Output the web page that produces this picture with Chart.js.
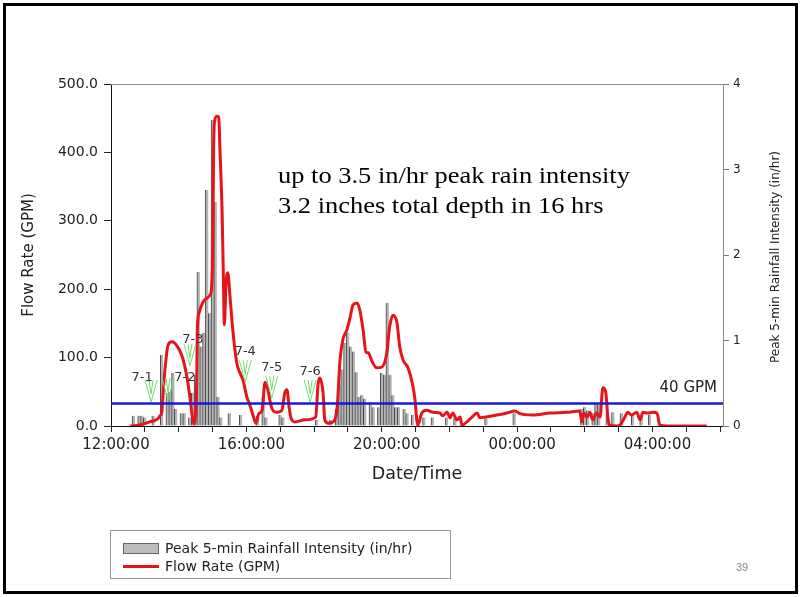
<!DOCTYPE html>
<html>
<head>
<meta charset="utf-8">
<script src="https://cdn.jsdelivr.net/npm/chart.js@4.4.1/dist/chart.umd.min.js"></script>
<style>
  html, body { margin: 0; padding: 0; background: #fff; }
  #wrap { position: relative; width: 803px; height: 597px; overflow: hidden; }
  #frame { position: absolute; left: 3px; top: 3px; width: 789px; height: 585px; border: 3px solid #000; }
  #chart { position: absolute; left: 0; top: 0; }
  #legend { position: absolute; left: 110px; top: 530px; width: 339px; height: 47px; border: 1px solid #999;
            font-family: "DejaVu Sans"; font-size: 14px; color: #222; }
  #legend .sw { position: absolute; left: 12px; top: 12px; width: 34px; height: 9px; background: #bdbdbd; border: 1px solid #666; }
  #legend .ln { position: absolute; left: 12px; top: 34px; width: 36px; height: 3px; background: #e8141b; }
  #legend .t1 { position: absolute; left: 54px; top: 9px; white-space: nowrap; }
  #legend .t2 { position: absolute; left: 54px; top: 27px; white-space: nowrap; }
  #page { position: absolute; left: 736px; top: 561px; font-family: "Liberation Sans"; font-size: 11px; color: #888; }
</style>
</head>
<body>
<div id="wrap">
  <canvas id="chart" width="803" height="597"></canvas>
  <div id="frame"></div>
  <div id="legend">
    <div class="sw"></div><div class="t1">Peak 5-min Rainfall Intensity (in/hr)</div>
    <div class="ln"></div><div class="t2">Flow Rate (GPM)</div>
  </div>
  <div id="page">39</div>
</div>
<script>
// x axis runs from noon on day 1 to early morning of day 2
const axisStart = '12:00';
const axisEnd = '06:05';

// flow rate (GPM)
const flowTimes = ['12:34','12:51','13:09','13:22','13:27','13:30','13:34','13:38','13:41','13:48','13:57','14:06','14:15','14:20','14:24','14:27','14:30','14:32','14:33','14:36','14:43','14:50','14:56','14:59','15:01','15:02','15:04','15:08','15:11','15:13','15:17','15:19','15:21','15:24','15:27','15:31','15:36','15:43','15:49','15:54','16:01','16:06','16:12','16:17','16:22','16:28','16:33','16:38','16:45','16:54','17:03','17:08','17:12','17:16','17:19','17:26','17:44','18:03','18:07','18:10','18:16','18:19','18:25','18:34','18:41','18:46','18:51','18:58','19:04','19:09','19:16','19:21','19:27','19:32','19:36','19:43','19:51','20:00','20:09','20:14','20:20','20:27','20:32','20:38','20:46','20:54','20:59','21:02','21:04','21:11','21:20','21:31','21:43','21:48','21:56','22:01','22:06','22:13','22:19','22:22','22:31','22:40','22:49','22:54','23:03','23:24','23:42','23:56','00:05','00:28','00:58','01:28','01:51','01:55','01:58','02:04','02:09','02:14','02:21','02:27','02:32','02:37','02:41','02:44','02:57','03:02','03:11','03:16','03:23','03:32','03:38','03:43','03:52','04:01','04:08','04:13','04:26','05:36'];
const flowValues = [0,1.5,6,10,15,20,67,101,118,123,117,102,70,41,15,3,19,67,140,165,181,187,192,213,311,408,447,453,452,408,311,228,148,210,224,189,140,92,77,67,42,31,15,4,18,23,64,53,26,20,23,48,53,26,12,6,9,13,60,70,48,9,4,6,28,96,126,140,159,177,180,170,140,108,107,94,85,86,107,145,162,151,115,96,86,63,38,9,1,19,23,20,19,15,20,12,19,9,13,1,6,13,19,12,13,16,19,22,18,16,19,20,22,6,19,13,20,9,19,13,56,50,12,1,0,1,13,20,16,20,9,20,19,20,19,1,0,0];

// peak 5-min rainfall intensity (in/hr)
const rainTimes = ['12:40','12:50','12:55','13:00','13:15','13:30','13:40','13:45','13:50','13:55','14:05','14:10','14:20','14:25','14:30','14:35','14:40','14:45','14:50','14:55','15:00','15:05','15:10','15:15','15:30','15:50','16:20','16:30','16:35','17:00','17:05','18:05','18:30','18:40','18:45','18:50','18:55','19:00','19:05','19:10','19:15','19:20','19:25','19:30','19:40','19:45','19:55','20:00','20:05','20:10','20:15','20:20','20:25','20:30','20:40','20:45','20:55','21:15','21:30','21:55','22:10','23:05','23:55','01:55','02:00','02:05','02:15','02:20','02:25','02:40','02:50','03:05','03:25','03:40','03:55'];
const rainValues = [0.12,0.12,0.12,0.1,0.12,0.83,0.39,0.4,0.62,0.2,0.15,0.15,0.1,0.39,0.6,1.8,0.93,1.09,2.76,1.32,3.58,2.62,0.34,0.1,0.15,0.13,0.12,0.34,0.1,0.13,0.1,0.07,0.07,0.2,0.48,0.66,0.97,1.09,0.93,0.87,0.63,0.34,0.36,0.32,0.27,0.22,0.22,0.62,0.6,1.44,0.6,0.36,0.22,0.22,0.2,0.15,0.13,0.1,0.1,0.1,0.09,0.1,0.15,0.2,0.22,0.18,0.15,0.27,0.25,0.15,0.16,0.15,0.13,0.13,0.13];

// sample markers (tip of the green arrow)
const markerNames = ['7-1','7-2','7-3','7-4','7-5','7-6'];
const markerTimes = ['13:11','13:41','14:20','15:58','16:45','17:53'];
const markerValues = [35,38,88,64,41,35];

const thresholdGpm = 33;
const thresholdLabel = '40 GPM';
const noteLines = ['up to 3.5 in/hr peak rain intensity', '3.2 inches total depth in 16 hrs'];

// 'HH:MM' -> hours, times before noon belong to the next day
function toHours(s) {
  const [h, m] = s.split(':').map(Number);
  return (h < 12 ? h + 24 : h) + m / 60;
}

const xMin = toHours(axisStart);
const xMax = toHours(axisEnd);

const flowData = flowTimes.map((t, i) => ({ x: toHours(t), y: flowValues[i] }));
const rainData = rainTimes.map((t, i) => ({ x: toHours(t), y: rainValues[i] }));

Chart.defaults.font.family = '"DejaVu Sans"';
Chart.defaults.color = '#222';

// label tweaks for the marker text (dx, dy from the arrow tip)
const labelShift = [[-9, -24], [17, -22], [3, -26], [0, -31], [0, -30], [0, -30]];

const overlay = {
  id: 'overlay',
  afterDatasetsDraw(chart) {
    const { ctx, chartArea, scales } = chart;
    const x = scales.x, y = scales.y;
    ctx.save();

    // frame at top of the plot
    ctx.strokeStyle = '#8c8c8c';
    ctx.lineWidth = 1;
    ctx.beginPath();
    ctx.moveTo(chartArea.left, chartArea.top + 0.5);
    ctx.lineTo(chartArea.right, chartArea.top + 0.5);
    ctx.stroke();

    // green arrows with sample labels
    markerTimes.forEach((t, i) => {
      const px = x.getPixelForValue(toHours(t));
      const py = y.getPixelForValue(markerValues[i]);
      ctx.strokeStyle = '#6fdc6f';
      ctx.lineWidth = 1;
      ctx.beginPath();
      ctx.moveTo(px - 6, py - 22); ctx.lineTo(px, py); ctx.lineTo(px + 6, py - 22);
      ctx.moveTo(px - 2, py - 22); ctx.lineTo(px, py - 8); ctx.lineTo(px + 2, py - 22);
      ctx.stroke();
      ctx.fillStyle = '#333';
      ctx.font = '13px "DejaVu Sans"';
      ctx.textAlign = 'center';
      ctx.textBaseline = 'middle';
      ctx.fillText(markerNames[i], px + labelShift[i][0], py + labelShift[i][1]);
    });

    // threshold label
    const ty = y.getPixelForValue(thresholdGpm);
    ctx.fillStyle = '#222';
    ctx.font = '15px "DejaVu Sans"';
    ctx.textAlign = 'right';
    ctx.textBaseline = 'middle';
    ctx.fillText(thresholdLabel, chartArea.right - 6, ty - 15);

    // note text
    ctx.fillStyle = '#000';
    ctx.font = '23px "Liberation Serif"';
    ctx.textAlign = 'left';
    ctx.textBaseline = 'alphabetic';
    noteLines.forEach((line, i) => {
      ctx.save();
      ctx.translate(278, 183 + i * 30);
      ctx.scale(1.15, 1);
      ctx.fillText(line, 0, 0);
      ctx.restore();
    });

    // right axis title, reading bottom to top
    ctx.save();
    ctx.translate(776, (chartArea.top + chartArea.bottom) / 2 + 2);
    ctx.rotate(-Math.PI / 2);
    ctx.font = '12px "DejaVu Sans"';
    ctx.fillStyle = '#222';
    ctx.textAlign = 'center';
    ctx.textBaseline = 'middle';
    ctx.fillText('Peak 5-min Rainfall Intensity (in/hr)', 0, 0);
    ctx.restore();

    ctx.restore();
  }
};

new Chart(document.getElementById('chart'), {
  type: 'bar',
  data: {
    datasets: [
      {
        type: 'line',
        label: 'threshold',
        data: [{ x: xMin, y: thresholdGpm }, { x: xMax, y: thresholdGpm }],
        borderColor: '#1a1ad6',
        borderWidth: 2.5,
        pointRadius: 0,
        yAxisID: 'y',
        order: 1
      },
      {
        type: 'line',
        label: 'Flow Rate (GPM)',
        data: flowData,
        borderColor: '#e8141b',
        borderWidth: 3,
        pointRadius: 0,
        cubicInterpolationMode: 'monotone',
        yAxisID: 'y',
        order: 2
      },
      {
        type: 'bar',
        label: 'Peak 5-min Rainfall Intensity (in/hr)',
        data: rainData,
        backgroundColor: '#b5b5b5',
        borderColor: '#444',
        borderWidth: { left: 1, right: 0, top: 0, bottom: 0 },
        barThickness: 3,
        grouped: false,
        yAxisID: 'y2',
        order: 3
      }
    ]
  },
  options: {
    responsive: false,
    animation: false,
    layout: { padding: { top: 84, bottom: 111, left: 0, right: 0 } },
    plugins: {
      legend: { display: false },
      tooltip: { enabled: false }
    },
    scales: {
      x: {
        type: 'linear',
        offset: false,
        min: xMin,
        max: xMax,
        afterFit: (s) => { s.height = 60; },
        grid: { drawOnChartArea: false, offset: false, tickLength: 6, color: '#222' },
        border: { color: '#111', width: 1 },
        ticks: {
          stepSize: 1,
          autoSkip: false,
          includeBounds: false,
          maxRotation: 0,
          padding: 4,
          labelOffset: 5,
          font: { size: 15 },
          callback: (v) => {
            if (v % 4 !== 0) return '';
            const h = String(v % 24).padStart(2, '0');
            return h + ':00:00';
          }
        },
        title: { display: true, text: 'Date/Time', font: { size: 17.5 }, padding: { top: 0, bottom: 1 } }
      },
      y: {
        position: 'left',
        min: 0,
        max: 500,
        afterFit: (s) => { s.width = 111; },
        grid: { drawOnChartArea: false, tickLength: 7, color: '#222' },
        border: { color: '#111', width: 1 },
        ticks: { stepSize: 100, padding: 6, font: { size: 14 }, callback: (v) => v.toFixed(1) },
        title: { display: true, text: 'Flow Rate (GPM)', font: { size: 15 }, padding: { top: 20, bottom: 0 } }
      },
      y2: {
        position: 'right',
        min: 0,
        max: 4,
        afterFit: (s) => { s.width = 80; },
        grid: { drawOnChartArea: false, tickLength: 6, color: '#777' },
        border: { color: '#8c8c8c', width: 1 },
        ticks: { stepSize: 1, padding: 4, font: { size: 12 } }
      }
    }
  },
  plugins: [overlay]
});
</script>
</body>
</html>
